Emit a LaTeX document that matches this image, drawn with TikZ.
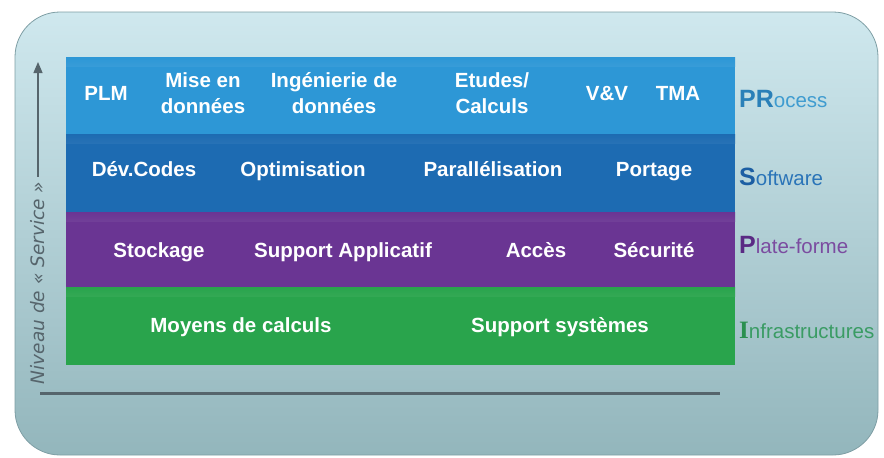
\documentclass[tikz,border=0pt]{standalone}
\usepackage{fontspec}
\usepackage{tikz}
\usetikzlibrary{arrows}
\newfontfamily\bandfont{Liberation Sans}
\newfontfamily\axisfont{DejaVu Sans}
\newfontfamily\capsfont{Liberation Serif}
\definecolor{panelTop}{HTML}{CFE8EE}
\definecolor{panelBot}{HTML}{93B6BC}
\definecolor{panelEdge}{HTML}{7E9EA4}
\definecolor{procC}{HTML}{2D97D6}
\definecolor{softC}{HTML}{1D6BB2}
\definecolor{platC}{HTML}{6A3593}
\definecolor{infraC}{HTML}{29A44C}
\definecolor{procD}{HTML}{2A80B8}
\definecolor{procL}{HTML}{3F9CD0}
\definecolor{softD}{HTML}{1C5EA3}
\definecolor{softL}{HTML}{2A74B8}
\definecolor{platD}{HTML}{5A2A84}
\definecolor{platL}{HTML}{7B4CA0}
\definecolor{infraD}{HTML}{2B9050}
\definecolor{infraL}{HTML}{3A9C64}
\definecolor{axisC}{HTML}{56656C}
\newcommand{\couche}[4]{{\color{#1}\bandfont\bfseries\fontsize{25}{25}\selectfont #2}{\color{#3}\bandfont\fontsize{20.5}{20.5}\selectfont #4}}

\begin{document}
\begin{tikzpicture}[x=1pt,y=-1pt,
		panel/.style={minimum width=863pt, minimum height=443pt, rounded corners=45pt,
			top color=panelTop, bottom color=panelBot, draw=panelEdge, line width=.8pt},
		% y est inverse : la couleur claire va en "bottom"
		band/.style={fill=#1, minimum width=669pt, inner sep=0pt,
			path picture={\shade[bottom color=#1!60!white, top color=#1]
				(path picture bounding box.north west) rectangle ([yshift=-9pt]path picture bounding box.north east);}},
		item/.style={text=white, font=\bandfont\bfseries\fontsize{20.5}{26}\selectfont, align=center, inner sep=0pt, anchor=base},
		layer/.style={anchor=base west, inner sep=0pt},
		axis/.style={draw=axisC, line width=1.6pt}]
	\useasboundingbox (0,0) rectangle (884,458);
	\node[panel] (fond) at (446.5,233.5) {};
	% couches
	\node[band=procC, minimum height=77pt] (proc) at (400.5,95.5) {};
	\node[band=softC, minimum height=78pt] (soft) at (400.5,173) {};
	\node[band=platC, minimum height=75pt] (plat) at (400.5,249.5) {};
	\node[band=infraC, minimum height=78pt] (infra) at (400.5,326) {};
	% PRocess
	\node[item] (plm) at (106,100) {PLM};
	\node[item] (mise) at (203,113) {Mise en\\données};
	\node[item] (inge) at (334,113) {Ingénierie de\\données};
	\node[item] (etud) at (492,113) {Etudes/\\Calculs};
	\node[item] (vv) at (607,100) {V\&V};
	\node[item] (tma) at (678,100) {TMA};
	% Software
	\node[item] (dev) at (144,176) {Dév.Codes};
	\node[item] (optim) at (303,176) {Optimisation};
	\node[item] (para) at (493,176) {Parallélisation};
	\node[item] (port) at (654,176) {Portage};
	% Plate-forme
	\node[item] (stock) at (159,257) {Stockage};
	\node[item] (supapp) at (343,257) {Support Applicatif};
	\node[item] (acces) at (536,257) {Accès};
	\node[item] (secu) at (654,257) {Sécurité};
	% Infrastructures
	\node[item] (moyens) at (241,332) {Moyens de calculs};
	\node[item] (supsys) at (560,332) {Support systèmes};
	% noms des couches
	\node[layer] (lproc) at (739,107) {\couche{procD}{PR}{procL}{ocess}};
	\node[layer] (lsoft) at (739,185) {\couche{softD}{S}{softL}{oftware}};
	\node[layer] (lplat) at (739,253) {\couche{platD}{P}{platL}{late-forme}};
	\node[layer] (linfra) at (739,338) {\couche{infraD}{\capsfont I}{infraL}{nfrastructures}};
	% axes
	\node[rotate=90, inner sep=0pt, text=axisC, font=\axisfont\itshape\fontsize{18.5}{18.5}\selectfont] (niveau) at (38,283) {Niveau de « Service »};
	\coordinate (haut) at (38,62);
	\coordinate (xg) at (40,393);
	\coordinate (xd) at (720,393);
	\draw[axis, -triangle 45, shorten <=5pt] (niveau.east) -- (haut);
	\draw[axis, line width=3pt] (xg) -- (xd);
\end{tikzpicture}
\end{document}
